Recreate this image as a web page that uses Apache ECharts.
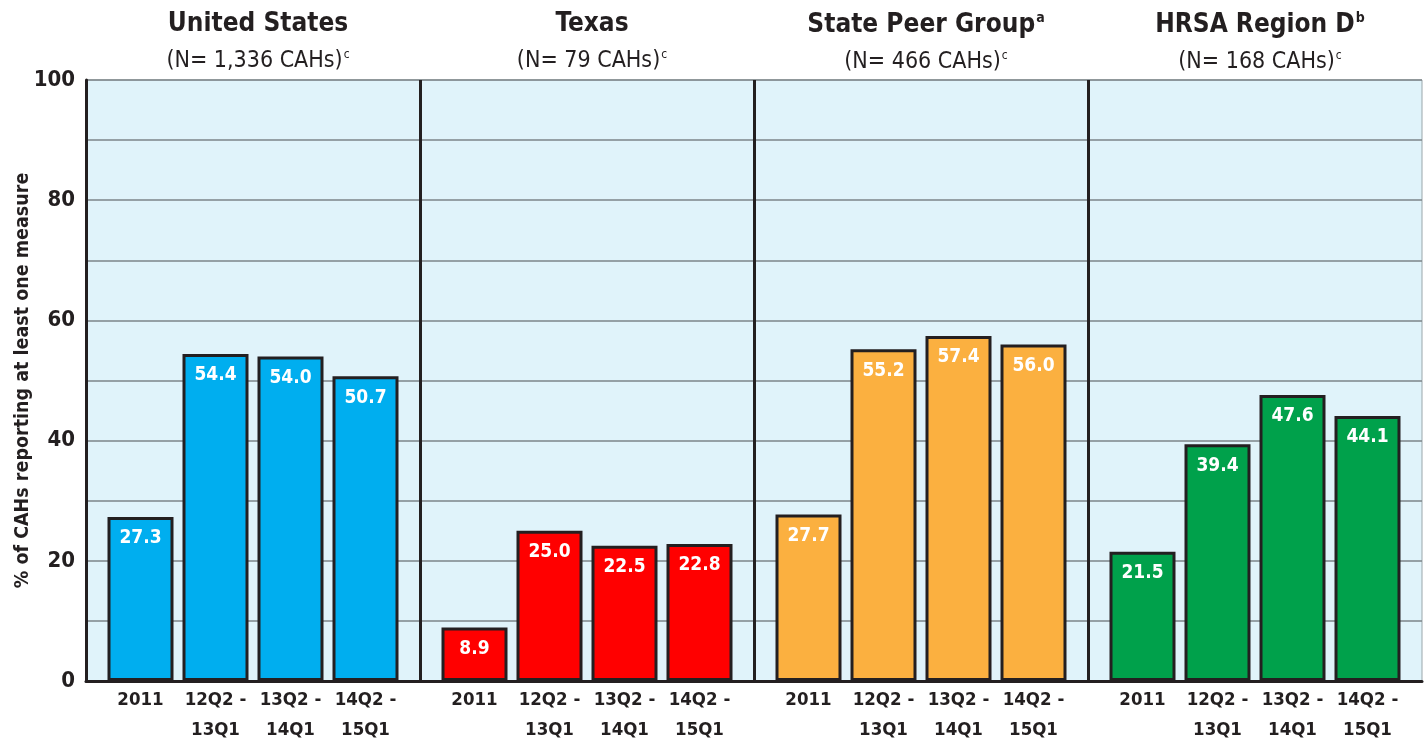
<!DOCTYPE html>
<html>
<head>
<meta charset="utf-8">
<script src="https://cdn.jsdelivr.net/npm/echarts@6/dist/echarts.min.js"></script>
<style>
  html, body { margin: 0; padding: 0; background: #fff; }
  #chart { width: 1426px; height: 740px; }
</style>
</head>
<body>
<div id="chart"></div>
<script>
const FONT = '"Liberation Sans Narrow", "DejaVu Sans Condensed", "Arial Narrow", sans-serif';
const INK = '#231f20';

// data
const periods = ['2011', '12Q2 -\n13Q1', '13Q2 -\n14Q1', '14Q2 -\n15Q1'];
const groupNames = ['United States', 'Texas', 'State Peer Group', 'HRSA Region D'];
const groupSup = ['', '', 'a', 'b'];
const groupCounts = ['1,336', '79', '466', '168'];
const groupColors = ['#00aeef', '#ff0000', '#fbb040', '#00a14b'];
const usValues = [27.3, 54.4, 54.0, 50.7];
const texasValues = [8.9, 25.0, 22.5, 22.8];
const peerValues = [27.7, 55.2, 57.4, 56.0];
const regionValues = [21.5, 39.4, 47.6, 44.1];
const yTickLabels = [0, 20, 40, 60, 80, 100];
const groupValues = [usValues, texasValues, peerValues, regionValues];

// layout
const plotLeft = 86, plotTop = 80, plotHeight = 601, panelW = 334;

const grids = [{
    left: plotLeft, top: plotTop, width: panelW * 4, height: plotHeight,
    outerBoundsMode: 'none',
    show: true, backgroundColor: '#e0f3fa', borderWidth: 1, borderColor: '#9aa6ab'
}];
const xAxes = [{
    type: 'value', gridIndex: 0, min: 0, max: 4, interval: 1,
    axisLabel: { show: false }, axisTick: { show: false },
    axisLine: { show: true, lineStyle: { color: INK, width: 3 } },
    splitLine: { show: true, showMinLine: false, showMaxLine: false, lineStyle: { color: INK, width: 3 } }
}];
const yAxes = [{
    type: 'value', gridIndex: 0, min: 0, max: 100, interval: 10,
    name: '% of CAHs reporting at least one measure',
    nameLocation: 'middle', nameGap: 53, nameRotate: 90, nameMoveOverlap: false,
    nameTextStyle: { fontFamily: FONT, fontWeight: 'bold', fontSize: 19.5, color: INK },
    axisLine: { show: true, lineStyle: { color: INK, width: 3 } },
    axisTick: { show: false },
    axisLabel: {
        margin: 11, fontFamily: FONT, fontWeight: 'bold', fontSize: 22, color: INK,
        formatter: v => yTickLabels.includes(v) ? String(v) : ''
    },
    splitLine: { show: true, lineStyle: { color: '#7d8589', width: 1.5 } }
}];
const series = [];
const titles = [];

groupValues.forEach((vals, i) => {
    const gi = i + 1;
    grids.push({
        left: plotLeft + i * panelW + 17, top: plotTop, width: 300, height: plotHeight,
        outerBoundsMode: 'none'
    });
    xAxes.push({
        type: 'category', gridIndex: gi, data: periods,
        axisLine: { show: false }, axisTick: { show: false },
        axisLabel: { margin: 4, fontFamily: FONT, fontWeight: 'bold', fontSize: 18.5, lineHeight: 30, color: INK, interval: 0 }
    });
    yAxes.push({ type: 'value', gridIndex: gi, min: 0, max: 100, show: false });
    series.push({
        type: 'bar', xAxisIndex: gi, yAxisIndex: gi, data: vals, barWidth: 66,
        itemStyle: { color: groupColors[i], borderColor: INK, borderWidth: 3 },
        label: {
            show: true, position: 'insideTop', distance: 12,
            fontFamily: FONT, fontWeight: 'bold', fontSize: 19, color: '#fff',
            formatter: p => p.value.toFixed(1)
        }
    });
    titles.push({
        text: groupNames[i] + (groupSup[i] ? '{sup|' + groupSup[i] + '}' : ''),
        subtext: '(N= ' + groupCounts[i] + ' CAHs){sup|c}',
        left: plotLeft + i * panelW + panelW / 2, textAlign: 'center', top: 6, itemGap: 12,
        textStyle: {
            fontFamily: FONT, fontWeight: 'bold', fontSize: 26, color: INK,
            rich: { sup: { fontFamily: FONT, fontWeight: 'bold', fontSize: 14, color: INK, padding: [0, 0, 14, 1] } }
        },
        subtextStyle: {
            fontFamily: FONT, fontSize: 23, color: INK,
            rich: { sup: { fontFamily: FONT, fontSize: 12, color: INK, padding: [0, 0, 12, 1] } }
        }
    });
});

const chart = echarts.init(document.getElementById('chart'));
chart.setOption({
    animation: false,
    title: titles,
    grid: grids,
    xAxis: xAxes,
    yAxis: yAxes,
    series: series
});
</script>
</body>
</html>
